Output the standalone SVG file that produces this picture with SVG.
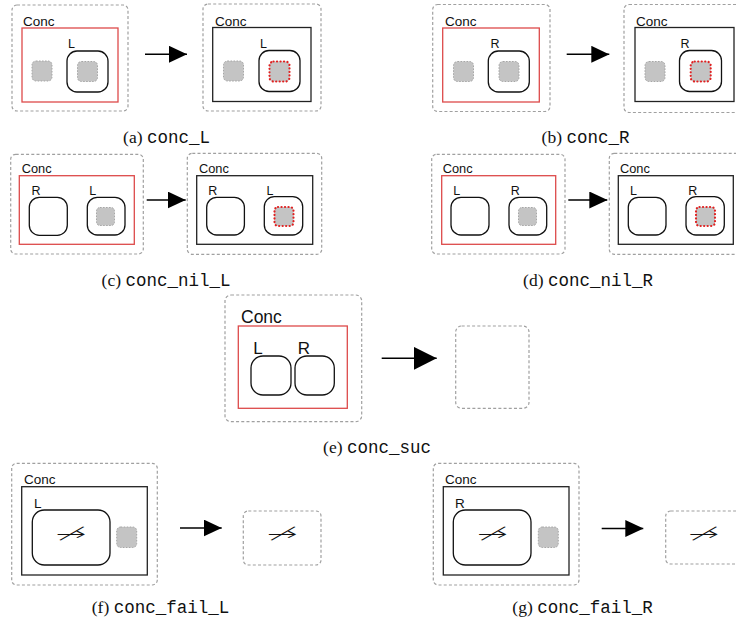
<svg xmlns="http://www.w3.org/2000/svg" width="736" height="627" viewBox="0 0 736 627">
<style>
  .dash{fill:none;stroke:#a0a0a0;stroke-width:1.2;stroke-dasharray:3 2.2}
  .red{fill:none;stroke:#dd4a4a;stroke-width:1.3}
  .blk{fill:none;stroke:#222;stroke-width:1.3}
  .box{fill:#fff;stroke:#111;stroke-width:1.3}
  .gsq{fill:#c4c4c4;stroke:#a6a6a6;stroke-width:1;stroke-dasharray:1.6 1.4}
  .rsq{fill:#c4c4c4;stroke:#e02020;stroke-width:2.2;stroke-dasharray:0.1 3.4;stroke-linecap:round}
  .lab{font-family:"Liberation Sans",Arial,sans-serif;fill:#111}
  .cap{font-size:17.5px;fill:#111}
  .ser{font-family:"Liberation Serif","Times New Roman",serif}
  .mono{font-family:"Liberation Mono","Courier New",monospace}
  .na{font-family:"DejaVu Sans",sans-serif;font-weight:200;font-size:18px;fill:#111}
  .conn{stroke:#000;stroke-width:1.5;fill:none}
</style>
<defs>
  <marker id="ah" viewBox="0 0 18 17" refX="18" refY="8.5" markerWidth="18" markerHeight="17" markerUnits="userSpaceOnUse" orient="auto">
    <path d="M0,0 L18,8.5 L0,17 Z" fill="#000"/>
  </marker>
  <marker id="ahL" viewBox="0 0 23 23" refX="23" refY="11.5" markerWidth="23" markerHeight="23" markerUnits="userSpaceOnUse" orient="auto">
    <path d="M0,0 L23,11.5 L0,23 Z" fill="#000"/>
  </marker>
</defs>

<!-- (a) conc_L -->
<g id="a-before">
  <rect class="dash" x="12" y="5" width="116" height="106" rx="5"/>
  <text class="lab" x="23" y="26" font-size="13.5">Conc</text>
  <rect class="red" x="22" y="28" width="96" height="74"/>
  <rect class="gsq" x="32" y="61" width="20" height="20" rx="4"/>
  <rect class="box" x="67" y="51" width="41" height="41" rx="10"/>
  <text class="lab" x="68" y="48" font-size="12.5">L</text>
  <rect class="gsq" x="77.5" y="61.5" width="20" height="20" rx="4"/>
</g>
<g id="a-after">
  <rect class="dash" x="203" y="4" width="118" height="107" rx="5"/>
  <text class="lab" x="215" y="26" font-size="13.5">Conc</text>
  <rect class="blk" x="212.7" y="27.5" width="98.3" height="74"/>
  <rect class="gsq" x="223.5" y="61" width="20" height="20" rx="4"/>
  <rect class="box" x="259" y="50.5" width="41" height="41" rx="10"/>
  <text class="lab" x="260" y="48" font-size="12.5">L</text>
  <rect class="rsq" x="269.5" y="61.5" width="20" height="20" rx="4"/>
</g>
<text id="cap-a" class="cap" x="166.5" y="143" text-anchor="middle"><tspan class="ser">(a) </tspan><tspan class="mono">conc_L</tspan></text>

<!-- (b) conc_R -->
<g id="b-before">
  <rect class="dash" x="432.7" y="4.5" width="117.3" height="107" rx="5"/>
  <text class="lab" x="445" y="26" font-size="13.5">Conc</text>
  <rect class="red" x="442.7" y="28" width="96.6" height="74"/>
  <rect class="gsq" x="453.5" y="61.5" width="20" height="20" rx="4"/>
  <rect class="box" x="488.3" y="51" width="41" height="41" rx="10"/>
  <text class="lab" x="490.5" y="48" font-size="12.5">R</text>
  <rect class="gsq" x="499" y="61.5" width="20" height="20" rx="4"/>
</g>
<g id="b-after">
  <rect class="dash" x="624" y="4.5" width="118" height="108" rx="5"/>
  <text class="lab" x="636" y="26" font-size="13.5">Conc</text>
  <rect class="blk" x="635" y="27.5" width="99" height="74"/>
  <rect class="gsq" x="645" y="61.5" width="20" height="20" rx="4"/>
  <rect class="box" x="679.5" y="50.5" width="42" height="41" rx="10"/>
  <text class="lab" x="680.5" y="48" font-size="12.5">R</text>
  <rect class="rsq" x="690.7" y="61.5" width="20" height="20" rx="4"/>
</g>
<text id="cap-b" class="cap" x="585.5" y="143" text-anchor="middle"><tspan class="ser">(b) </tspan><tspan class="mono">conc_R</tspan></text>

<!-- (c) conc_nil_L -->
<g id="c-before">
  <rect class="dash" x="10.7" y="154.3" width="132.6" height="99.7" rx="5"/>
  <text class="lab" x="21.7" y="173.3" font-size="12.8">Conc</text>
  <rect class="red" x="19.3" y="175.7" width="115" height="68.6"/>
  <rect class="box" x="29.3" y="197.3" width="38" height="38" rx="10"/>
  <text class="lab" x="31.5" y="195" font-size="12.5">R</text>
  <rect class="box" x="87.3" y="197.3" width="37.7" height="37.7" rx="10"/>
  <text class="lab" x="89.3" y="195" font-size="12.5">L</text>
  <rect class="gsq" x="96.5" y="207.5" width="18" height="18" rx="3.5"/>
</g>
<g id="c-after">
  <rect class="dash" x="187.3" y="153.3" width="134.4" height="101" rx="5"/>
  <text class="lab" x="199" y="173.3" font-size="12.8">Conc</text>
  <rect class="blk" x="196.7" y="175.7" width="116" height="68.6"/>
  <rect class="box" x="206.7" y="197.3" width="37.7" height="37.7" rx="10"/>
  <text class="lab" x="208.3" y="195" font-size="12.5">R</text>
  <rect class="box" x="264.3" y="196.7" width="38.4" height="38.3" rx="10"/>
  <text class="lab" x="266.5" y="195" font-size="12.5">L</text>
  <rect class="rsq" x="274.5" y="207" width="19" height="19" rx="3.5"/>
</g>
<text id="cap-c" class="cap" x="166" y="285.5" text-anchor="middle"><tspan class="ser">(c) </tspan><tspan class="mono">conc_nil_L</tspan></text>

<!-- (d) conc_nil_R -->
<g id="d-before">
  <rect class="dash" x="431.7" y="154.3" width="133.3" height="99.7" rx="5"/>
  <text class="lab" x="442.7" y="173.3" font-size="12.8">Conc</text>
  <rect class="red" x="441.7" y="175.7" width="114" height="68.6"/>
  <rect class="box" x="451" y="197.3" width="38" height="37.7" rx="10"/>
  <text class="lab" x="453.3" y="195" font-size="12.5">L</text>
  <rect class="box" x="509" y="197.3" width="37.7" height="37.7" rx="10"/>
  <text class="lab" x="510.7" y="195" font-size="12.5">R</text>
  <rect class="gsq" x="518.5" y="207.5" width="18" height="18" rx="3.5"/>
</g>
<g id="d-after">
  <rect class="dash" x="609.3" y="153.3" width="134" height="101" rx="5"/>
  <text class="lab" x="620" y="173.3" font-size="12.8">Conc</text>
  <rect class="blk" x="618.3" y="175.7" width="115" height="68.6"/>
  <rect class="box" x="628.3" y="197.3" width="37.7" height="37.7" rx="10"/>
  <text class="lab" x="630" y="195" font-size="12.5">L</text>
  <rect class="box" x="686" y="196.7" width="38.3" height="38.3" rx="10"/>
  <text class="lab" x="688.3" y="195" font-size="12.5">R</text>
  <rect class="rsq" x="696" y="207" width="19" height="19" rx="3.5"/>
</g>
<text id="cap-d" class="cap" x="588" y="285.5" text-anchor="middle"><tspan class="ser">(d) </tspan><tspan class="mono">conc_nil_R</tspan></text>

<!-- (e) conc_suc -->
<g id="e-before">
  <rect class="dash" x="225" y="295" width="136.7" height="126.7" rx="6"/>
  <text class="lab" x="241" y="323.3" font-size="17.5">Conc</text>
  <rect class="red" x="238.3" y="326" width="109" height="82.3"/>
  <rect class="box" x="251" y="356" width="40" height="39" rx="12"/>
  <text class="lab" x="253.3" y="354" font-size="17">L</text>
  <rect class="box" x="295" y="356" width="39.3" height="39" rx="12"/>
  <text class="lab" x="297.7" y="354" font-size="17">R</text>
</g>
<g id="e-after">
  <rect class="dash" x="455.7" y="326" width="73.3" height="82.3" rx="6"/>
</g>
<text id="cap-e" class="cap" x="377" y="453" text-anchor="middle"><tspan class="ser">(e) </tspan><tspan class="mono">conc_suc</tspan></text>

<!-- (f) conc_fail_L -->
<g id="f-before">
  <rect class="dash" x="11.7" y="463.3" width="145.6" height="121.7" rx="5"/>
  <text class="lab" x="24" y="484.3" font-size="13.5">Conc</text>
  <rect class="blk" x="21.7" y="486.7" width="125.6" height="88.3"/>
  <text class="lab" x="34" y="508.3" font-size="13.5">L</text>
  <rect class="box" x="32.3" y="510" width="77.7" height="55" rx="12"/>
  <text class="na" x="71" y="540.3" text-anchor="middle" textLength="31" lengthAdjust="spacingAndGlyphs">↛</text>
  <rect class="gsq" x="116.7" y="527" width="20" height="20.5" rx="4"/>
</g>
<g id="f-after">
  <rect class="dash" x="243.3" y="511" width="77.7" height="54" rx="5"/>
  <text class="na" x="282.2" y="540.3" text-anchor="middle" textLength="31" lengthAdjust="spacingAndGlyphs">↛</text>
</g>
<text id="cap-f" class="cap" x="160.5" y="613" text-anchor="middle"><tspan class="ser">(f) </tspan><tspan class="mono">conc_fail_L</tspan></text>

<!-- (g) conc_fail_R -->
<g id="g-before">
  <rect class="dash" x="433.3" y="463.3" width="145.7" height="121.7" rx="5"/>
  <text class="lab" x="445" y="484.3" font-size="13.5">Conc</text>
  <rect class="blk" x="443.3" y="486.7" width="125.7" height="88.3"/>
  <text class="lab" x="455" y="508.3" font-size="13.5">R</text>
  <rect class="box" x="453.3" y="510" width="77.7" height="55" rx="12"/>
  <text class="na" x="492.5" y="540.3" text-anchor="middle" textLength="31" lengthAdjust="spacingAndGlyphs">↛</text>
  <rect class="gsq" x="538.3" y="527" width="20" height="20.5" rx="4"/>
</g>
<g id="g-after">
  <rect class="dash" x="665.7" y="511" width="78" height="53" rx="5"/>
  <text class="na" x="703.8" y="540.3" text-anchor="middle" textLength="31" lengthAdjust="spacingAndGlyphs">↛</text>
</g>
<text id="cap-g" class="cap" x="582.5" y="613" text-anchor="middle"><tspan class="ser">(g) </tspan><tspan class="mono">conc_fail_R</tspan></text>

<g id="connectors">
  <line class="conn" x1="145" y1="54.3" x2="187" y2="54.3" marker-end="url(#ah)"/>
  <line class="conn" x1="566.7" y1="54.3" x2="609.3" y2="54.3" marker-end="url(#ah)"/>
  <line class="conn" x1="146.7" y1="200" x2="185.7" y2="200" marker-end="url(#ah)"/>
  <line class="conn" x1="568.3" y1="200" x2="607.3" y2="200" marker-end="url(#ah)"/>
  <line class="conn" x1="381.7" y1="358.3" x2="436.7" y2="358.3" marker-end="url(#ahL)"/>
  <line class="conn" x1="180" y1="528" x2="221.7" y2="528" marker-end="url(#ah)"/>
  <line class="conn" x1="601.7" y1="528.5" x2="643.3" y2="528.5" marker-end="url(#ah)"/>
</g>
</svg>
